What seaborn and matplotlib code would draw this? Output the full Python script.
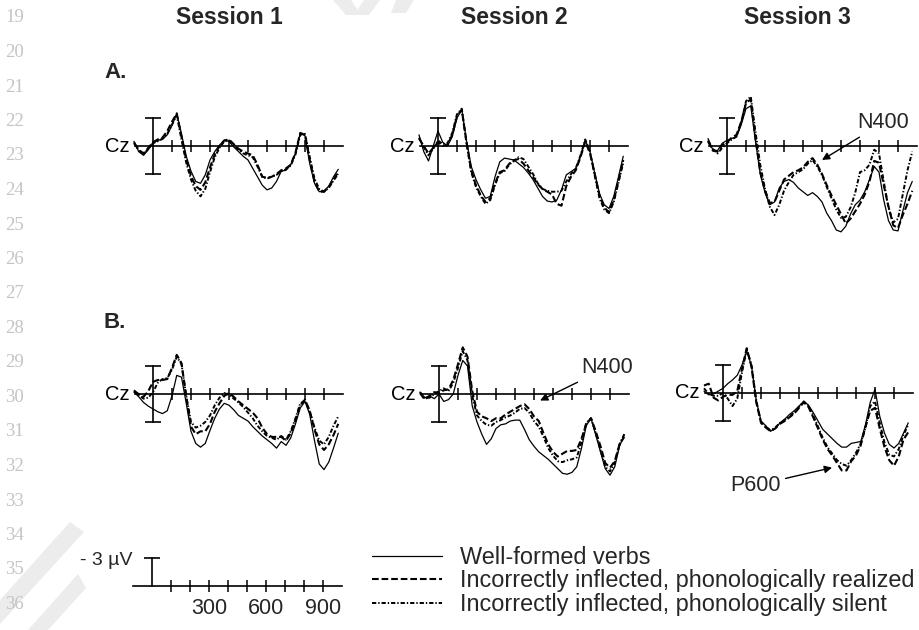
import matplotlib
matplotlib.use("Agg")
import matplotlib.pyplot as plt
import seaborn as sns
import pandas as pd
from matplotlib.lines import Line2D
from matplotlib.patches import Polygon

sns.set_theme(style="white")
plt.rcParams["font.family"] = ["Liberation Sans", "DejaVu Sans"]

# ---------------- data ----------------
TIME_MS = list(range(-100, 1000, 25))
CONDITIONS = ["Well-formed verbs",
              "Incorrectly inflected, phonologically realized",
              "Incorrectly inflected, phonologically silent"]
SESSIONS = ["Session 1", "Session 2", "Session 3"]
ROW_LABELS = ["A.", "B."]
ELECTRODE = "Cz"
X_TICKS_MS = [100, 200, 300, 400, 500, 600, 700, 800, 900]
SCALE_LABELS = {300: "300", 600: "600", 900: "900"}
SCALE_UV = 3
LINE_NUMBERS = list(range(19, 37))

# Panel A (amplitude in µV, negative plotted up)
S1A_WELL = [-0.5, 0.6, 1.0, 0.4, -0.3, -0.6, -0.7, -1.2, -2.2, -3.5, -1.3, 1.1, 2.7, 3.8, 4.0, 3.1, 1.5, 0.6, -0.1, -0.6,
            -0.5, 0.1, 0.6, 1.1, 1.5, 2.4, 3.3, 4.2, 4.7, 4.5, 3.8, 2.7, 2.6, 2.0, 0.8, -1.4, -1.1, 1.9, 4.0, 4.9,
            4.8, 4.3, 3.3, 2.5]
S1A_REAL = [-0.3, 0.4, 0.8, 0.2, -0.4, -0.7, -0.9, -1.6, -2.6, -3.5, -1.0, 1.5, 3.2, 4.3, 4.7, 3.9, 2.3, 0.9, 0.0, -0.6,
            -0.7, -0.2, 0.3, 0.6, 0.8, 1.0, 2.0, 3.3, 3.4, 3.3, 3.0, 2.6, 2.4, 2.0, 0.7, -1.4, -1.2, 1.5, 3.8, 4.9,
            4.9, 4.4, 3.6, 2.8]
S1A_SILENT = [-0.4, 0.5, 0.9, 0.3, -0.3, -0.5, -0.8, -1.3, -2.3, -3.3, -0.7, 1.8, 3.6, 4.8, 5.4, 4.6, 2.8, 1.2, 0.2, -0.5,
              -0.6, -0.1, 0.4, 0.8, 1.0, 1.2, 2.2, 3.3, 3.5, 3.3, 3.1, 2.7, 2.5, 2.1, 0.9, -1.2, -1.3, 1.2, 3.5, 4.6,
              4.9, 4.5, 3.7, 3.0]

S2A_WELL = [-1.2, 0.6, 1.6, 0.0, -1.6, -0.4, 0.0, -1.0, -3.0, -3.9, -0.6, 2.2, 3.6, 4.7, 5.6, 5.4, 3.3, 1.7, 1.3, 1.4,
            1.5, 1.9, 2.3, 2.9, 3.6, 4.5, 5.4, 5.9, 6.0, 5.8, 4.7, 3.1, 2.75, 2.4, 1.1, -0.6, 0.6, 2.9, 5.1, 6.3,
            6.7, 5.4, 3.3, 1.1]
S2A_REAL = [-0.8, 0.0, 0.8, 0.2, -0.4, 0.0, -0.1, -1.2, -3.2, -3.9, -0.4, 2.6, 4.2, 5.3, 6.0, 5.6, 4.0, 2.8, 2.6, 1.9,
            1.5, 1.4, 1.9, 2.6, 3.3, 4.1, 4.6, 4.9, 5.2, 6.2, 6.4, 4.3, 3.3, 2.6, 1.2, -0.5, 0.8, 3.0, 5.3, 6.6,
            7.1, 5.8, 3.7, 1.5]
S2A_SILENT = [-0.9, 0.1, 1.0, 0.3, -0.6, -0.2, -0.3, -1.4, -3.4, -4.0, -0.3, 2.8, 4.4, 5.4, 6.2, 5.8, 4.2, 2.9, 2.7, 2.0,
              1.6, 1.2, 1.4, 2.2, 3.0, 4.0, 4.6, 4.8, 4.9, 4.9, 4.8, 3.8, 3.0, 2.4, 1.0, -0.7, 0.6, 3.2, 5.6, 6.8,
              7.2, 6.0, 3.9, 1.8]

S3A_WELL = [-0.8, 0.4, 0.5, -0.3, -0.6, -0.8, -1.0, -2.3, -4.0, -4.3, -0.5, 3.0, 5.0, 6.3, 6.0, 4.5, 3.8, 3.6, 3.9, 4.5,
            4.9, 5.3, 5.0, 5.4, 6.0, 7.2, 8.0, 9.0, 9.2, 8.6, 7.3, 6.3, 5.8, 4.9, 3.6, 2.2, 2.8, 5.8, 8.0, 9.0,
            9.1, 7.0, 5.0, 3.8]
S3A_REAL = [-0.5, 0.5, 0.6, -0.1, -0.4, -0.9, -1.2, -2.6, -4.6, -5.0, -0.8, 2.8, 4.8, 6.1, 6.0, 4.8, 3.6, 3.2, 2.8, 2.6,
            2.3, 1.7, 1.3, 2.0, 3.0, 4.2, 5.3, 6.3, 7.3, 8.3, 7.8, 7.0, 6.2, 5.2, 3.8, 1.6, 1.8, 4.2, 6.5, 8.5,
            8.8, 7.4, 6.2, 4.8]
S3A_SILENT = [-0.6, 0.3, 0.8, 0.2, -0.3, -0.7, -1.0, -2.5, -4.8, -5.3, -1.5, 2.0, 4.6, 6.5, 7.4, 6.3, 4.8, 3.9, 3.1, 2.8,
              2.5, 1.9, 1.5, 2.2, 3.1, 4.4, 5.6, 6.8, 7.7, 7.6, 6.6, 5.0, 2.8, 2.6, 2.0, 0.4, 0.8, 3.8, 6.6, 8.2,
              7.8, 5.2, 2.6, 0.6]

# Panel B
S1B_WELL = [-0.2, 0.3, 0.9, 1.3, 1.6, 1.9, 2.1, 1.8, 0.2, -2.0, -1.8, 1.0, 4.0, 5.3, 5.7, 5.3, 3.9, 2.6, 1.6, 1.0,
            1.2, 1.7, 2.3, 2.6, 2.9, 3.5, 4.0, 4.5, 4.9, 5.3, 5.8, 5.1, 5.5, 4.7, 3.2, 1.5, 0.8, 2.2, 5.0, 7.5,
            8.1, 7.3, 5.8, 4.2]
S1B_REAL = [-0.3, 0.0, 0.3, -0.3, -1.3, -1.5, -1.5, -1.6, -2.8, -4.2, -3.3, 0.3, 3.5, 4.3, 4.0, 4.0, 3.2, 1.9, 1.0, 0.2,
            -0.1, 0.3, 0.8, 1.2, 1.6, 2.0, 2.6, 3.6, 4.3, 4.6, 4.6, 4.6, 5.0, 4.2, 2.8, 1.2, 0.6, 1.8, 3.8, 5.4,
            6.0, 5.4, 4.4, 3.2]
S1B_SILENT = [-0.4, 0.1, 0.5, 0.4, -0.2, -1.2, -1.6, -1.7, -2.6, -4.0, -3.2, 0.2, 3.0, 3.6, 3.4, 3.0, 2.3, 1.2, 0.4, -0.1,
              0.1, 0.5, 0.9, 1.4, 2.0, 2.6, 3.4, 4.0, 4.5, 4.7, 4.9, 4.5, 4.9, 4.0, 2.6, 1.0, 0.7, 1.9, 3.6, 5.0,
              5.4, 4.6, 3.4, 2.4]

S2B_WELL = [-0.2, 0.4, 0.2, 0.5, 0.0, 0.8, 0.6, 0.0, -2.0, -3.6, -3.0, 1.3, 3.0, 4.3, 5.4, 4.8, 3.7, 3.3, 3.2, 2.9,
            2.8, 2.8, 3.8, 4.9, 5.6, 6.2, 6.6, 7.0, 7.5, 8.0, 8.5, 8.6, 8.4, 7.8, 5.8, 3.4, 2.6, 4.4, 6.2, 8.0,
            8.7, 7.8, 5.6, 4.4]
S2B_REAL = [-0.1, 0.6, 0.2, -0.2, -0.1, -0.4, -0.5, -1.5, -3.2, -5.0, -4.0, -0.3, 1.9, 2.4, 2.6, 2.9, 2.6, 2.6, 2.2, 1.9,
            1.6, 1.3, 1.1, 1.6, 2.4, 2.9, 4.2, 5.4, 6.2, 6.7, 6.4, 6.1, 6.1, 6.0, 4.8, 3.2, 2.6, 4.0, 5.6, 7.4,
            7.9, 7.2, 5.4, 4.6]
S2B_SILENT = [-0.2, 0.4, 0.4, 0.0, -0.3, -0.6, -0.3, -1.2, -2.8, -4.6, -3.6, 0.2, 2.3, 2.9, 3.3, 3.4, 3.0, 2.8, 2.5, 2.3,
              2.0, 1.6, 1.5, 2.0, 2.9, 3.5, 4.6, 5.8, 6.6, 7.2, 7.3, 7.1, 7.0, 6.8, 5.2, 3.1, 2.6, 4.2, 6.0, 7.8,
              8.3, 7.4, 5.4, 4.3]

S3B_WELL = [-0.2, 0.2, 0.1, -0.2, -0.5, -1.0, -1.4, -1.9, -3.0, -4.5, -2.9, 0.8, 3.0, 3.5, 4.1, 3.8, 3.2, 2.8, 2.3, 1.9,
            1.4, 0.9, 1.3, 2.1, 3.0, 3.9, 4.4, 4.9, 5.4, 5.8, 5.8, 5.4, 5.3, 5.2, 3.4, 1.0, -0.4, 2.5, 4.3, 5.5,
            5.9, 5.4, 4.3, 3.2]
S3B_REAL = [-0.8, -1.0, 0.5, 0.8, 0.4, 0.2, 0.2, -0.2, -2.6, -4.8, -2.8, 1.0, 3.2, 3.7, 4.1, 3.8, 3.3, 3.0, 2.6, 2.2,
            1.6, 1.0, 1.5, 2.6, 3.8, 5.0, 6.0, 6.7, 7.5, 8.3, 8.3, 7.3, 6.7, 5.6, 3.6, 1.9, 1.6, 3.8, 5.8, 7.2,
            7.8, 6.8, 5.0, 4.2]
S3B_SILENT = [-0.5, 0.1, 0.3, 0.3, 0.0, 0.6, 1.4, 0.6, -2.2, -4.7, -3.0, 0.8, 3.1, 3.6, 4.0, 3.7, 3.2, 2.9, 2.5, 2.1,
              1.5, 0.9, 1.4, 2.4, 3.6, 4.8, 5.8, 6.5, 7.2, 7.6, 7.8, 7.2, 6.4, 5.4, 3.7, 1.4, 0.9, 3.2, 5.3, 6.6,
              6.8, 6.0, 4.5, 3.4]

PANEL_DATA = {
    (0, 0): (S1A_WELL, S1A_REAL, S1A_SILENT),
    (0, 1): (S2A_WELL, S2A_REAL, S2A_SILENT),
    (0, 2): (S3A_WELL, S3A_REAL, S3A_SILENT),
    (1, 0): (S1B_WELL, S1B_REAL, S1B_SILENT),
    (1, 1): (S2B_WELL, S2B_REAL, S2B_SILENT),
    (1, 2): (S3B_WELL, S3B_REAL, S3B_SILENT),
}

# ---------------- layout ----------------
W, H = 920, 630
PX_PER_MS = 0.19
PX_PER_UV = 9.33
XLIM = (-200, 1050)
YLIM = (-6.0, 10.6)
ORIGINS = {(0, 0): (153, 146), (0, 1): (438, 146), (0, 2): (727, 146),
           (1, 0): (153, 394), (1, 1): (439, 394), (1, 2): (723, 393)}

STYLE_DASHES = {CONDITIONS[0]: "", CONDITIONS[1]: (3.2, 1.4), CONDITIONS[2]: (2.2, 1.0, 0.7, 1.0)}
STYLE_SIZES = {CONDITIONS[0]: 0.9, CONDITIONS[1]: 1.5, CONDITIONS[2]: 1.4}

fig = plt.figure(figsize=(W / 100, H / 100), dpi=100)
fig.patch.set_facecolor("white")

# faint watermark strokes (background)
WATERMARK = [
    [(0, 600), (70, 522), (84, 532), (0, 624)],
    [(28, 630), (78, 574), (86, 588), (48, 630)],
    [(333, 0), (351, 0), (361, 15), (346, 15)],
    [(364, 0), (380, 0), (369, 15), (354, 15)],
    [(396, 0), (414, 0), (406, 13), (391, 13)],
]
for poly in WATERMARK:
    fig.add_artist(Polygon([(x / W, 1 - y / H) for x, y in poly], closed=True,
                           transform=fig.transFigure, facecolor="#ececec",
                           edgecolor="none", zorder=-5))


def make_axes(x0, y0, xlim=XLIM, ylim=YLIM):
    left_px = x0 + xlim[0] * PX_PER_MS
    width_px = (xlim[1] - xlim[0]) * PX_PER_MS
    bottom_px = y0 + ylim[1] * PX_PER_UV
    height_px = (ylim[1] - ylim[0]) * PX_PER_UV
    ax = fig.add_axes([left_px / W, 1 - bottom_px / H, width_px / W, height_px / H])
    ax.set_xlim(*xlim)
    ax.set_ylim(ylim[1], ylim[0])  # negative up
    ax.set_facecolor("none")
    for s in ["top", "right"]:
        ax.spines[s].set_visible(False)
    ax.spines["left"].set_position(("data", 0))
    ax.spines["bottom"].set_position(("data", 0))
    for s in ["left", "bottom"]:
        ax.spines[s].set_color("black")
        ax.spines[s].set_linewidth(1.2)
    ax.set_xlabel("")
    ax.set_ylabel("")
    return ax


for (r, c), series in PANEL_DATA.items():
    x0, y0 = ORIGINS[(r, c)]
    ax = make_axes(x0, y0)
    rows = []
    for cond, vals in zip(CONDITIONS, series):
        for t, v in zip(TIME_MS, vals):
            rows.append({"time": t, "amp": v, "condition": cond})
    df = pd.DataFrame(rows)
    sns.lineplot(data=df, x="time", y="amp", style="condition", size="condition",
                 style_order=CONDITIONS, size_order=CONDITIONS,
                 dashes=STYLE_DASHES, sizes=STYLE_SIZES, color="black",
                 legend=False, errorbar=None, ax=ax, zorder=3)
    ax.set_xlim(*XLIM)
    ax.set_ylim(YLIM[1], YLIM[0])
    ax.set_xlabel("")
    ax.set_ylabel("")
    ax.spines["left"].set_bounds(-SCALE_UV, SCALE_UV)
    ax.spines["bottom"].set_bounds(-95, 1000)
    ax.set_xticks(X_TICKS_MS)
    ax.set_xticklabels([])
    ax.set_yticks([-SCALE_UV, SCALE_UV])
    ax.set_yticklabels([])
    ax.tick_params(axis="x", direction="inout", length=8, width=1.1, color="black", bottom=True)
    ax.tick_params(axis="y", direction="inout", length=11, width=1.2, color="black", left=True)
    ax.text(-122, 0, ELECTRODE, ha="right", va="center", fontsize=14.5, color="black")

# annotations
arrow = dict(arrowstyle="-|>", color="black", lw=1.0, mutation_scale=11, shrinkA=1, shrinkB=0)
ax_a3 = fig.axes[2]
ax_a3.annotate("N400", xy=(500, 1.5), xytext=(686, -2.5), textcoords="data",
               ha="left", va="center", fontsize=15.5, arrowprops=arrow, annotation_clip=False)
ax_b2 = fig.axes[4]
ax_b2.annotate("N400", xy=(532, 0.7), xytext=(748, -2.8), textcoords="data",
               ha="left", va="center", fontsize=15.5, arrowprops=arrow, annotation_clip=False)
ax_b3 = fig.axes[5]
ax_b3.annotate("P600", xy=(574, 8.0), xytext=(172, 9.9), textcoords="data",
               ha="center", va="center", fontsize=15.5, arrowprops=arrow, annotation_clip=False)

# scale bar
sax = make_axes(152, 586, xlim=(-200, 1050), ylim=(-4.0, 3.5))
sax.spines["left"].set_bounds(-SCALE_UV, 0)
sax.spines["bottom"].set_bounds(-100, 1000)
sax.set_xticks(X_TICKS_MS)
sax.set_xticklabels([SCALE_LABELS.get(t, "") for t in X_TICKS_MS], fontsize=15.5)
sax.set_yticks([-SCALE_UV])
sax.set_yticklabels([f"- {SCALE_UV} µV"], fontsize=14)
sax.tick_params(axis="x", direction="inout", length=8, width=1.1, color="black", pad=4.5, bottom=True)
sax.tick_params(axis="y", direction="inout", length=11, width=1.2, color="black", pad=8.5, left=True)

# titles and row labels
for name, xc in zip(SESSIONS, [229, 514, 797]):
    fig.text(xc / W, 1 - 18 / H, name, ha="center", va="center", fontsize=16.5, fontweight="bold")
for lab, yc in zip(ROW_LABELS, [72, 322]):
    fig.text(104 / W, 1 - yc / H, lab, ha="left", va="center", fontsize=16, fontweight="bold")

# margin line numbers
for i, n in enumerate(LINE_NUMBERS):
    fig.text(5 / W, 1 - (18 + 34.5 * i) / H, str(n), ha="left", va="center",
             fontsize=13.5, color="#c4c4c4", family=["Liberation Serif", "DejaVu Serif"])

# legend
handles = [Line2D([], [], color="black", lw=STYLE_SIZES[CONDITIONS[0]], linestyle="-"),
           Line2D([], [], color="black", lw=STYLE_SIZES[CONDITIONS[1]], dashes=STYLE_DASHES[CONDITIONS[1]]),
           Line2D([], [], color="black", lw=STYLE_SIZES[CONDITIONS[2]], dashes=STYLE_DASHES[CONDITIONS[2]])]
fig.legend(handles, CONDITIONS, loc="center left", bbox_to_anchor=(372 / W, 1 - 581 / H),
           frameon=False, fontsize=16.9, handlelength=3.0, handletextpad=0.75,
           labelspacing=0.02, borderpad=0, borderaxespad=0)

fig.savefig("out.png", dpi=100, facecolor="white")
